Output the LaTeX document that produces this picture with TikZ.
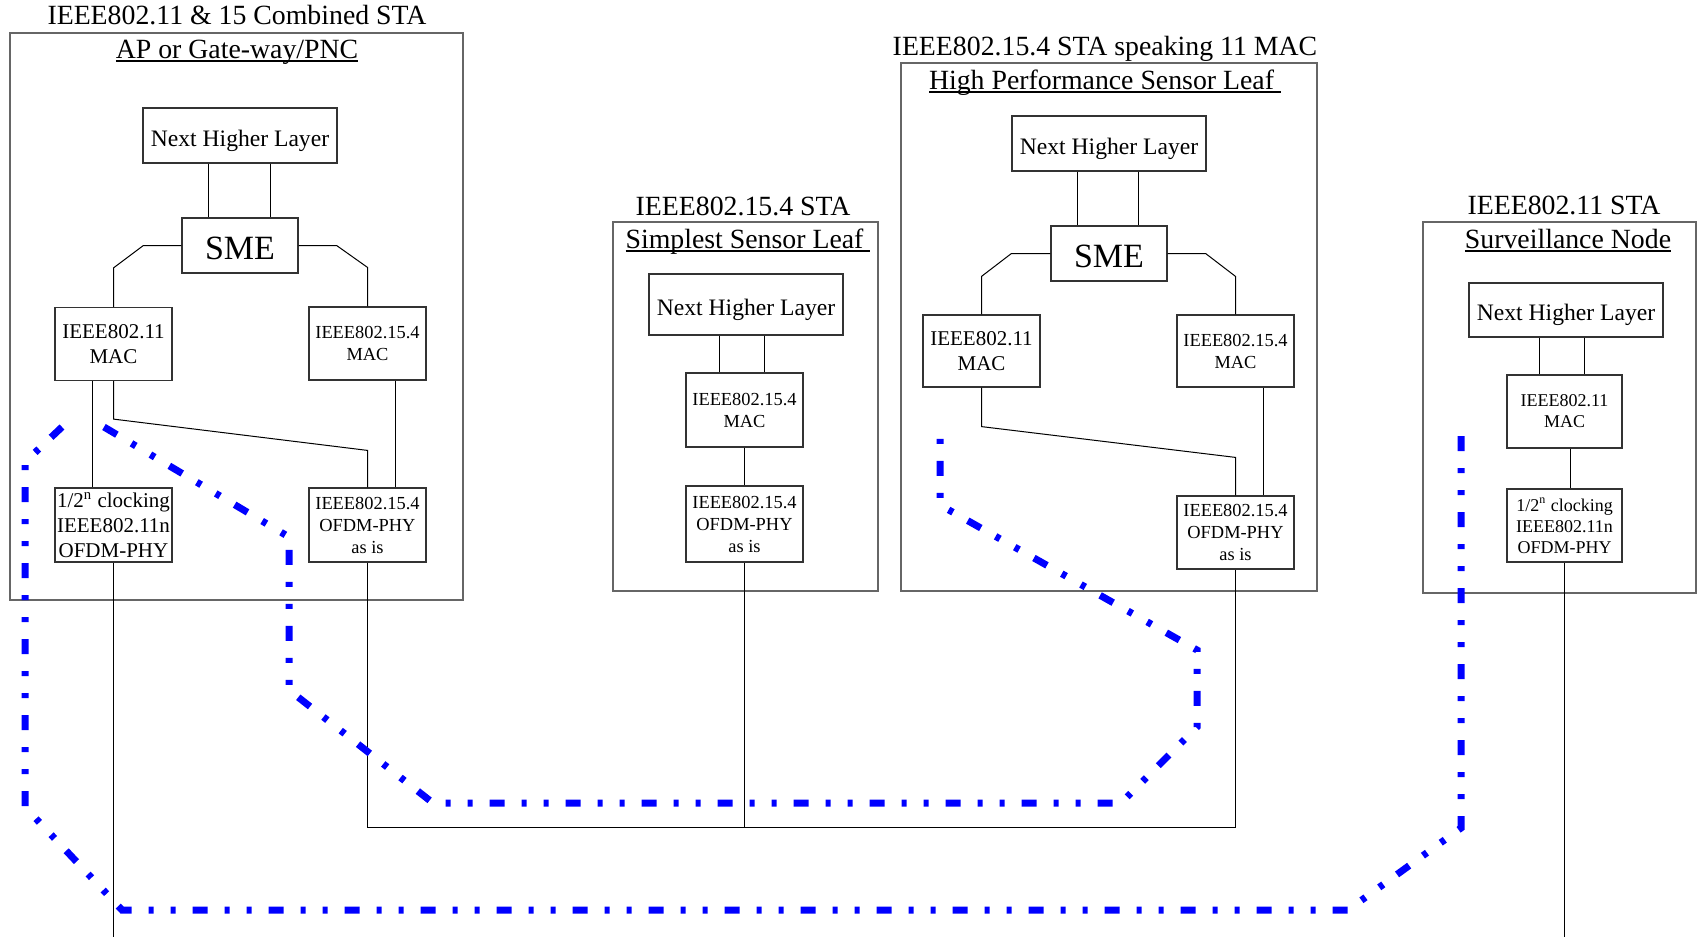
\documentclass[tikz,border=0pt]{standalone}
\usepackage{fontspec}
\setmainfont{Liberation Serif}
\usetikzlibrary{positioning, calc}
\newcommand\ulbar[1]{\setbox0\hbox{#1}\rlap{\rule[-1.9pt]{\wd0}{0.7pt}}\box0}

\begin{document}
\begin{tikzpicture}[x=0.5pt, y=-0.5pt,
  sta/.style={draw=black!60, line width=1pt},
  blk/.style={draw=black!80, line width=0.6pt, inner sep=0pt, align=center, minimum width=58.5pt, minimum height=36.5pt},
  nhl/.style={blk, minimum width=97pt, minimum height=27.5pt, text height=10.5pt, text depth=0pt, font=\fontsize{11.8}{14}\selectfont},
  sme/.style={blk, minimum width=58pt, minimum height=27.5pt, text height=13.5pt, text depth=0pt, font=\fontsize{17}{20}\selectfont},
  ttl/.style={font=\fontsize{13.9}{16}\selectfont, inner sep=0pt, anchor=base},
  t11/.style={font=\fontsize{10.5}{12.5}\selectfont},
  t15/.style={font=\fontsize{9.2}{11}\selectfont},
  t9/.style={font=\fontsize{9}{10.5}\selectfont},
  lnk/.style={line width=0.5pt},
  trail/.style={blue, line width=3.5pt, dash pattern=on 7.5pt off 8.5pt on 2.5pt off 8.5pt on 2.5pt off 8.5pt}]
\useasboundingbox (0,0) rectangle (1698,937);
\coordinate (floor) at (0,937);
\coordinate (bus) at (0,827);

\node[sta, minimum width=226.5pt, minimum height=283.5pt] (cs) at (236.5,316.5) {};
\node[ttl] (cs_title) at (237,25) {IEEE802.11 \& 15 Combined STA};
\node[ttl] (cs_sub) at (237,58) {\ulbar{AP or Gate-way/PNC}};
\node[nhl] (cs_nhl) at (240,135.5) {Next Higher Layer};
\node[sme] (cs_sme) at (240,245.5) {SME};
\node[blk, t11] (cs_mac11) at (113.5,344) {IEEE802.11\\MAC};
\node[blk, t15] (cs_mac154) at (367.5,343.5) {IEEE802.15.4\\MAC};
\node[blk, t11, minimum height=37pt] (cs_phy11) at (113.5,525) {1/2\textsuperscript{n} clocking\\IEEE802.11n\\OFDM-PHY};
\node[blk, t15, minimum height=37pt] (cs_phy154) at (367.5,525) {IEEE802.15.4\\OFDM-PHY\\as is};
\draw[lnk] ([xshift=-16pt]cs_nhl.south) -- ([xshift=-16pt]cs_sme.north);
\draw[lnk] ([xshift=15pt]cs_nhl.south) -- ([xshift=15pt]cs_sme.north);
\draw[lnk] (cs_sme.west) -- ++(-38,0) -- ([yshift=19.5pt]cs_mac11.north) -- (cs_mac11.north);
\draw[lnk] (cs_sme.east) -- ++(38,0) -- ([yshift=19.5pt]cs_mac154.north) -- (cs_mac154.north);
\draw[lnk] ([xshift=-10.75pt]cs_mac11.south) -- ([xshift=-10.75pt]cs_phy11.north);
\draw[lnk] (cs_mac11.south) -- ++(0,38) -- ([yshift=18.5pt]cs_phy154.north) -- (cs_phy154.north);
\draw[lnk] ([xshift=13.75pt]cs_mac154.south) -- ([xshift=13.75pt]cs_phy154.north);
\draw[lnk] (cs_phy11.south) -- (cs_phy11.south |- floor);

\node[sta, minimum width=132.5pt, minimum height=184.5pt] (sl) at (745.5,406.5) {};
\node[ttl] (sl_title) at (743,215) {IEEE802.15.4 STA};
\node[ttl] (sl_sub) at (748,248) {\ulbar{Simplest Sensor Leaf\ }};
\node[nhl, minimum height=30.5pt] (sl_nhl) at (746,304.5) {Next Higher Layer};
\node[blk, t15, minimum height=37pt] (sl_mac) at (744.5,410) {IEEE802.15.4\\MAC};
\node[blk, t15, minimum height=38pt] (sl_phy) at (744.5,524) {IEEE802.15.4\\OFDM-PHY\\as is};
\draw[lnk] ([xshift=-13.5pt]sl_nhl.south) -- ([xshift=-13.5pt]sl_nhl.south |- sl_mac.north);
\draw[lnk] ([xshift=9pt]sl_nhl.south) -- ([xshift=9pt]sl_nhl.south |- sl_mac.north);
\draw[lnk] (sl_mac) -- (sl_phy);

\node[sta, minimum width=208pt, minimum height=264pt] (hp) at (1109,327) {};
\node[ttl] (hp_title) at (1105,55) {IEEE802.15.4 STA speaking 11 MAC};
\node[ttl] (hp_sub) at (1105,89) {\ulbar{High Performance Sensor Leaf\ }};
\node[nhl] (hp_nhl) at (1109,143.5) {Next Higher Layer};
\node[sme] (hp_sme) at (1109,253.5) {SME};
\node[blk, t11, minimum height=36pt] (hp_mac11) at (981.5,351) {IEEE802.11\\MAC};
\node[blk, t15, minimum height=36pt] (hp_mac154) at (1235.5,351) {IEEE802.15.4\\MAC};
\node[blk, t15] (hp_phy154) at (1235.5,532.5) {IEEE802.15.4\\OFDM-PHY\\as is};
\draw[lnk] ([xshift=-16pt]hp_nhl.south) -- ([xshift=-16pt]hp_sme.north);
\draw[lnk] ([xshift=14.5pt]hp_nhl.south) -- ([xshift=14.5pt]hp_sme.north);
\draw[lnk] (hp_sme.west) -- ++(-39,0) -- ([yshift=19pt]hp_mac11.north) -- (hp_mac11.north);
\draw[lnk] (hp_sme.east) -- ++(38,0) -- ([yshift=19pt]hp_mac154.north) -- (hp_mac154.north);
\draw[lnk] (hp_mac11.south) -- ++(0,39) -- ([yshift=19pt]hp_phy154.north) -- (hp_phy154.north);
\draw[lnk] ([xshift=13.75pt]hp_mac154.south) -- ([xshift=13.75pt]hp_phy154.north);

\node[sta, minimum width=136.5pt, minimum height=185.5pt] (sv) at (1559.5,407.5) {};
\node[ttl] (sv_title) at (1564,214) {IEEE802.11 STA};
\node[ttl] (sv_sub) at (1568,248) {\ulbar{Surveillance Node}};
\node[nhl, minimum height=27pt] (sv_nhl) at (1566,310) {Next Higher Layer};
\node[blk, t9, minimum width=57.5pt] (sv_mac) at (1564.5,411.5) {IEEE802.11\\MAC};
\node[blk, t9, minimum width=57.5pt] (sv_phy) at (1564.5,525.5) {1/2\textsuperscript{n} clocking\\IEEE802.11n\\OFDM-PHY};
\draw[lnk] ([xshift=-13.5pt]sv_nhl.south) -- ([xshift=-13.5pt]sv_nhl.south |- sv_mac.north);
\draw[lnk] ([xshift=9pt]sv_nhl.south) -- ([xshift=9pt]sv_nhl.south |- sv_mac.north);
\draw[lnk] ([xshift=2.75pt]sv_mac.south) -- ([xshift=2.75pt]sv_phy.north);
\draw[lnk] (sv_phy.south) -- (sv_phy.south |- floor);

\draw[lnk] (cs_phy154.south) |- (hp_phy154.south |- bus) -- (hp_phy154.south);
\draw[lnk] (sl_phy.south) -- (sl_phy.south |- bus);

\draw[trail] (62,427) -- (25,462) -- (25,807) -- (122,910) -- (1348,910) -- (1461,828) -- (1461,426);
\draw[trail] (104,427) -- (289,537) -- (289,690) -- (433,803) -- (1121,803) -- (1197,727) -- (1197,650) -- (940,505) -- (940,426);
\end{tikzpicture}
\end{document}
